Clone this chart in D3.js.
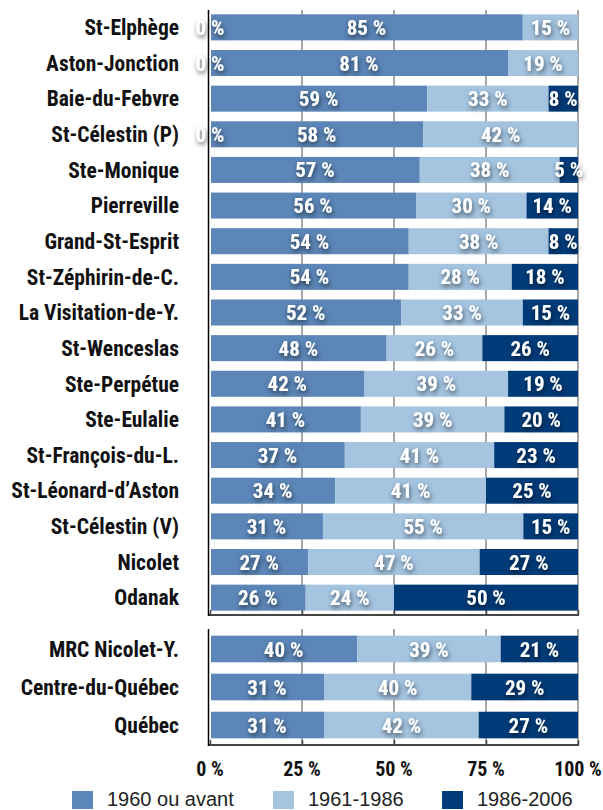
<!DOCTYPE html>
<html>
<head>
<meta charset="utf-8">
<script src="https://cdn.jsdelivr.net/npm/d3@7"></script>
<style>
  body { margin: 0; background: #fff; }
  svg { display: block; }
  .cond { font-family: 'Liberation Sans Narrow', 'Roboto Condensed', 'DejaVu Sans Condensed', 'Arial Narrow', sans-serif; font-weight: bold; }
</style>
</head>
<body>
<svg width="603" height="810"></svg>
<script>
// municipalities (top block) and regions (bottom block)
var municipalities = ['St-Elphège', 'Aston-Jonction', 'Baie-du-Febvre', 'St-Célestin (P)', 'Ste-Monique',
  'Pierreville', 'Grand-St-Esprit', 'St-Zéphirin-de-C.', 'La Visitation-de-Y.', 'St-Wenceslas',
  'Ste-Perpétue', 'Ste-Eulalie', 'St-François-du-L.', 'St-Léonard-d\u2019Aston', 'St-Célestin (V)',
  'Nicolet', 'Odanak'];
var regions = ['MRC Nicolet-Y.', 'Centre-du-Québec', 'Québec'];

// share of dwellings by construction period (%), municipalities then regions
var before1960   = [85, 81, 59, 58, 57, 56, 54, 54, 52, 48, 42, 41, 37, 34, 31, 27, 26,  40, 31, 31];
var from1961     = [15, 19, 33, 42, 38, 30, 38, 28, 33, 26, 39, 39, 41, 41, 55, 47, 24,  39, 40, 42];
var from1986     = [0, 0, 8, 0, 5, 14, 8, 18, 15, 26, 19, 20, 23, 25, 15, 27, 50,  21, 29, 27];

var seriesNames = ['1960 ou avant', '1961-1986', '1986-2006'];
var tickValues = [0, 0.25, 0.5, 0.75, 1];

var svg = d3.select('svg');
var color = d3.scaleOrdinal().domain(seriesNames).range(['#5b86b7', '#a4c4e0', '#003b79']);

var x = d3.scaleLinear().domain([0, 1]).range([210, 578]);

var rows = municipalities.concat(regions).map(function(name, i) {
  return { name: name, block: i < municipalities.length ? 0 : 1,
           '1960 ou avant': before1960[i], '1961-1986': from1961[i], '1986-2006': from1986[i] };
});

var stacked = d3.stack().keys(seriesNames).offset(d3.stackOffsetExpand)(rows);

var blocks = [
  { y: d3.scaleBand().domain(municipalities).range([9, 616]).paddingInner(0.27).paddingOuter(0.15), top: 10, bottom: 615 },
  { y: d3.scaleBand().domain(regions).range([629, 745]).paddingInner(0.3).paddingOuter(0.175), top: 629, bottom: 745 }
];

function yOf(d) { return blocks[d.block].y(d.name); }
function bw(d) { return blocks[d.block].y.bandwidth(); }

var defs = svg.append('defs');
var f = defs.append('filter').attr('id', 'shadow').attr('x', '-30%').attr('y', '-40%').attr('width', '160%').attr('height', '200%');
f.append('feDropShadow').attr('dx', 1).attr('dy', 2.5).attr('stdDeviation', 2.5)
  .attr('flood-color', '#000').attr('flood-opacity', 0.6);

// gridlines + bottom axis for each block
blocks.forEach(function(b) {
  svg.append('g').selectAll('line').data(tickValues.slice(1)).enter().append('line')
    .attr('x1', function(d) { return x(d); }).attr('x2', function(d) { return x(d); })
    .attr('y1', b.top).attr('y2', b.bottom)
    .attr('stroke', '#a8a8a8').attr('stroke-width', 2);
  svg.append('g')
    .attr('transform', 'translate(0,' + b.bottom + ')')
    .call(d3.axisBottom(x).tickValues(tickValues).tickSize(-5).tickSizeOuter(0).tickFormat(''))
    .call(function(a) {
      a.select('.domain').attr('stroke', '#444').attr('stroke-width', 2).attr('d', 'M' + (x(0) - 2) + ',0H' + (x(1) + 1));
      a.selectAll('.tick line').attr('stroke', '#444').attr('stroke-width', 1.5);
    });
});

// bars
var layer = svg.append('g').selectAll('g').data(stacked).enter().append('g')
  .attr('fill', function(s) { return color(s.key); });
layer.selectAll('rect').data(function(s) { return s; }).enter().append('rect')
  .attr('x', function(d) { return x(d[0]) + (d[0] === 0 ? 1 : 0); })
  .attr('width', function(d) { return Math.max(0, x(d[1]) - x(d[0]) - (d[0] === 0 ? 1 : 0)); })
  .attr('y', function(d) { return yOf(d.data); })
  .attr('height', function(d) { return bw(d.data); });

// vertical axis lines
blocks.forEach(function(b) {
  svg.append('line').attr('x1', 208.5).attr('x2', 208.5).attr('y1', b.top).attr('y2', b.bottom + 1)
    .attr('stroke', '#000').attr('stroke-width', 1.5);
});

// category labels
svg.append('g').selectAll('text').data(rows).enter().append('text')
  .attr('class', 'cond')
  .attr('x', 179)
  .attr('y', function(d) { return yOf(d) + bw(d) / 2; })
  .attr('dy', '0.36em')
  .attr('text-anchor', 'end')
  .attr('font-size', 21.5)
  .attr('fill', '#111')
  .text(function(d) { return d.name; });

// value labels
var labels = [];
stacked.forEach(function(s) {
  s.forEach(function(d) {
    var v = d.data[s.key];
    // zero segments in the reference have their label sitting on the axis
    var cx = v === 0 ? x(0) : (x(d[0]) + x(d[1])) / 2;
    labels.push({ x: cx, y: yOf(d.data) + bw(d.data) / 2, text: v + ' %' });
  });
});
svg.append('g').attr('filter', 'url(#shadow)').selectAll('text').data(labels).enter().append('text')
  .attr('class', 'cond')
  .attr('x', function(d) { return d.x; })
  .attr('y', function(d) { return d.y; })
  .attr('dy', '0.36em')
  .attr('text-anchor', 'middle')
  .attr('font-size', 21)
  .attr('fill', '#fff')
  .text(function(d) { return d.text; });

// percent tick labels
svg.append('g').selectAll('text').data(tickValues).enter().append('text')
  .attr('class', 'cond')
  .attr('x', function(d) { return x(d); })
  .attr('y', 776)
  .attr('text-anchor', 'middle')
  .attr('font-size', 20)
  .attr('fill', '#111')
  .text(function(d) { return Math.round(d * 100) + ' %'; });

// legend
var legendX = [72, 273, 442];
var lg = svg.append('g').selectAll('g').data(seriesNames).enter().append('g')
  .attr('transform', function(d, i) { return 'translate(' + legendX[i] + ',791)'; });
lg.append('rect').attr('width', 21).attr('height', 18).attr('fill', function(d) { return color(d); });
lg.append('text').attr('x', 35).attr('y', 15)
  .attr('font-family', "'Liberation Sans', Helvetica, Arial, sans-serif")
  .attr('font-size', 20).attr('fill', '#222')
  .text(function(d) { return d; });
</script>
</body>
</html>
